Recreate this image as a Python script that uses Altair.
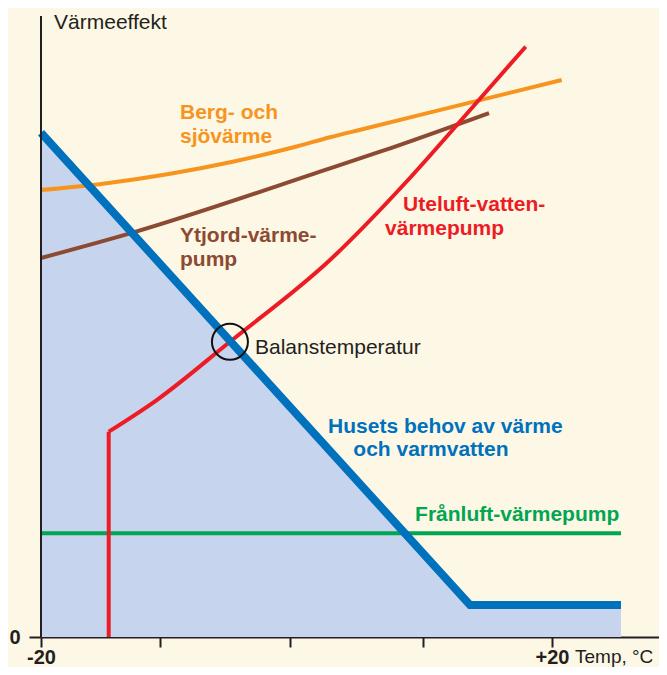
import altair as alt
import pandas as pd

# ---- data (x = temperature °C, y = relative heat power) ----
need_T = [-20, 13.58, 25.4]
need_V = [81.2, 5.15, 5.15]

berg_T = [-20, -15, -10, -5, 0, 2.62, 5, 10, 15, 20.76]
berg_V = [71.98, 73.04, 74.56, 76.54, 78.99, 80.47, 81.69, 84.24, 86.78, 89.69]

ytjord_T = [-20, -13.03, 2.62, 6.54, 15.07]
ytjord_V = [61.03, 65.0, 75.47, 78.15, 84.38]

ute_T = [-14.70, -10.94, -5.21, 2.62, 8.73, 12.56, 17.94]
ute_V = [33.06, 38.16, 47.55, 60.71, 73.59, 82.45, 95.06]
ute_stop_T = [-14.70, -14.70]
ute_stop_V = [0, 33.06]

franluft_T = [-20, 25.4]
franluft_V = [16.7, 16.7]

balance_T = [-5.21]
balance_V = [47.55]

bold_texts = ["Berg- och", "sjövärme", "Ytjord-värme-", "pump",
              "Uteluft-vatten-", "värmepump", "Husets behov av värme",
              "och varmvatten", "Frånluft-värmepump"]
bold_T = [-9.12, -9.12, -9.12, -9.12, 8.34, 6.93, 2.47, 4.45, 9.28]
bold_V = [84.38, 80.5, 64.57, 60.71, 69.57, 65.7, 33.86, 30.11, 19.65]
bold_colors = ["#f7941d", "#f7941d", "#8c4a32", "#8c4a32", "#ed1c24", "#ed1c24",
               "#0071bc", "#0071bc", "#00a650"]

plain_texts = ["Värmeeffekt", "Balanstemperatur"]
plain_T = [-18.98, -3.25]
plain_V = [98.8, 46.54]

unit_text = ["Temp, °C"]
unit_T = [21.8]
unit_V = [-3.3]

x_ticks = [-20, -10.7, -0.5, 9.9, 20]

FONT = "Liberation Sans"
INK = "#231f20"
FS = 21

x_scale = alt.Scale(domain=[-20, 28.376], nice=False, zero=False)
y_scale = alt.Scale(domain=[0, 101.29], nice=False, zero=False)

x_axis = alt.Axis(values=x_ticks, title=None, grid=False,
                  labelExpr="datum.value == -20 ? '-20' : datum.value == 20 ? '+20' : ''",
                  tickSize=10, tickWidth=2, tickColor=INK, domainColor=INK, domainWidth=2,
                  labelFont=FONT, labelFontSize=20, labelFontWeight="bold", labelColor=INK,
                  labelPadding=0, labelFlush=False, labelOverlap=False, labelBound=False)
y_axis = alt.Axis(values=[0], title=None, grid=False, domain=False,
                  tickSize=12, tickWidth=2, tickColor=INK,
                  labelFont=FONT, labelFontSize=20, labelFontWeight="bold", labelColor=INK,
                  labelPadding=9, labelFlush=False, labelBound=False)


def X():
    return alt.X("T:Q", scale=x_scale, axis=x_axis)


def Y():
    return alt.Y("V:Q", scale=y_scale, axis=y_axis)


def df(t, v):
    return pd.DataFrame({"T": t, "V": v})


area = alt.Chart(df(need_T, need_V)).mark_area(color="#c6d4ee", interpolate="linear").encode(x=X(), y=Y())

green = alt.Chart(df(franluft_T, franluft_V)).mark_line(color="#00a650", strokeWidth=4).encode(x=X(), y=Y())
orange = alt.Chart(df(berg_T, berg_V)).mark_line(color="#f7941d", strokeWidth=4, interpolate="monotone").encode(x=X(), y=Y())
brown = alt.Chart(df(ytjord_T, ytjord_V)).mark_line(color="#8c4a32", strokeWidth=4, interpolate="monotone").encode(x=X(), y=Y())
red_curve = alt.Chart(df(ute_T, ute_V)).mark_line(color="#ed1c24", strokeWidth=4, interpolate="monotone").encode(x=X(), y=Y())
red_stop = alt.Chart(df(ute_stop_T, ute_stop_V)).mark_line(color="#ed1c24", strokeWidth=4).encode(x=X(), y=Y(), order=alt.Order("V:Q"))
blue = alt.Chart(df(need_T, need_V)).mark_line(color="#0071bc", strokeWidth=8, interpolate="linear").encode(x=X(), y=Y())

circle = alt.Chart(df(balance_T, balance_V)).mark_point(shape="circle", size=1296, filled=False,
                                                         stroke="#111111", strokeWidth=2, opacity=1).encode(x=X(), y=Y())

yaxis_line = alt.Chart(pd.DataFrame({"T": [-20], "V": [0], "V2": [100]})).mark_rule(
    color=INK, strokeWidth=2).encode(x=X(), y=Y(), y2="V2:Q")

bold_df = pd.DataFrame({"text": bold_texts, "T": bold_T, "V": bold_V, "c": bold_colors})
bold_lbl = alt.Chart(bold_df).mark_text(align="left", baseline="middle", font=FONT, fontSize=FS,
                                        fontWeight="bold").encode(
    x=X(), y=Y(), text="text:N", color=alt.Color("c:N", scale=None))

plain_df = pd.DataFrame({"text": plain_texts, "T": plain_T, "V": plain_V})
plain_lbl = alt.Chart(plain_df).mark_text(align="left", baseline="middle", font=FONT, fontSize=FS,
                                          color=INK).encode(x=X(), y=Y(), text="text:N")

unit_df = pd.DataFrame({"text": unit_text, "T": unit_T, "V": unit_V})
unit_lbl = alt.Chart(unit_df).mark_text(align="left", baseline="middle", font=FONT, fontSize=19,
                                        color=INK).encode(x=X(), y=Y(), text="text:N")

chart = alt.layer(area, green, orange, brown, red_curve, red_stop, blue, circle, yaxis_line,
                  bold_lbl, plain_lbl, unit_lbl).properties(
    width=618, height=629,
    autosize=alt.AutoSizeParams(type="none"),
    padding={"left": 33, "top": 0, "right": 0, "bottom": 30},
    background="#fdf7e6",
).configure_view(stroke=None)

chart.save("out.html", embed_options={"renderer": "svg", "actions": False})
